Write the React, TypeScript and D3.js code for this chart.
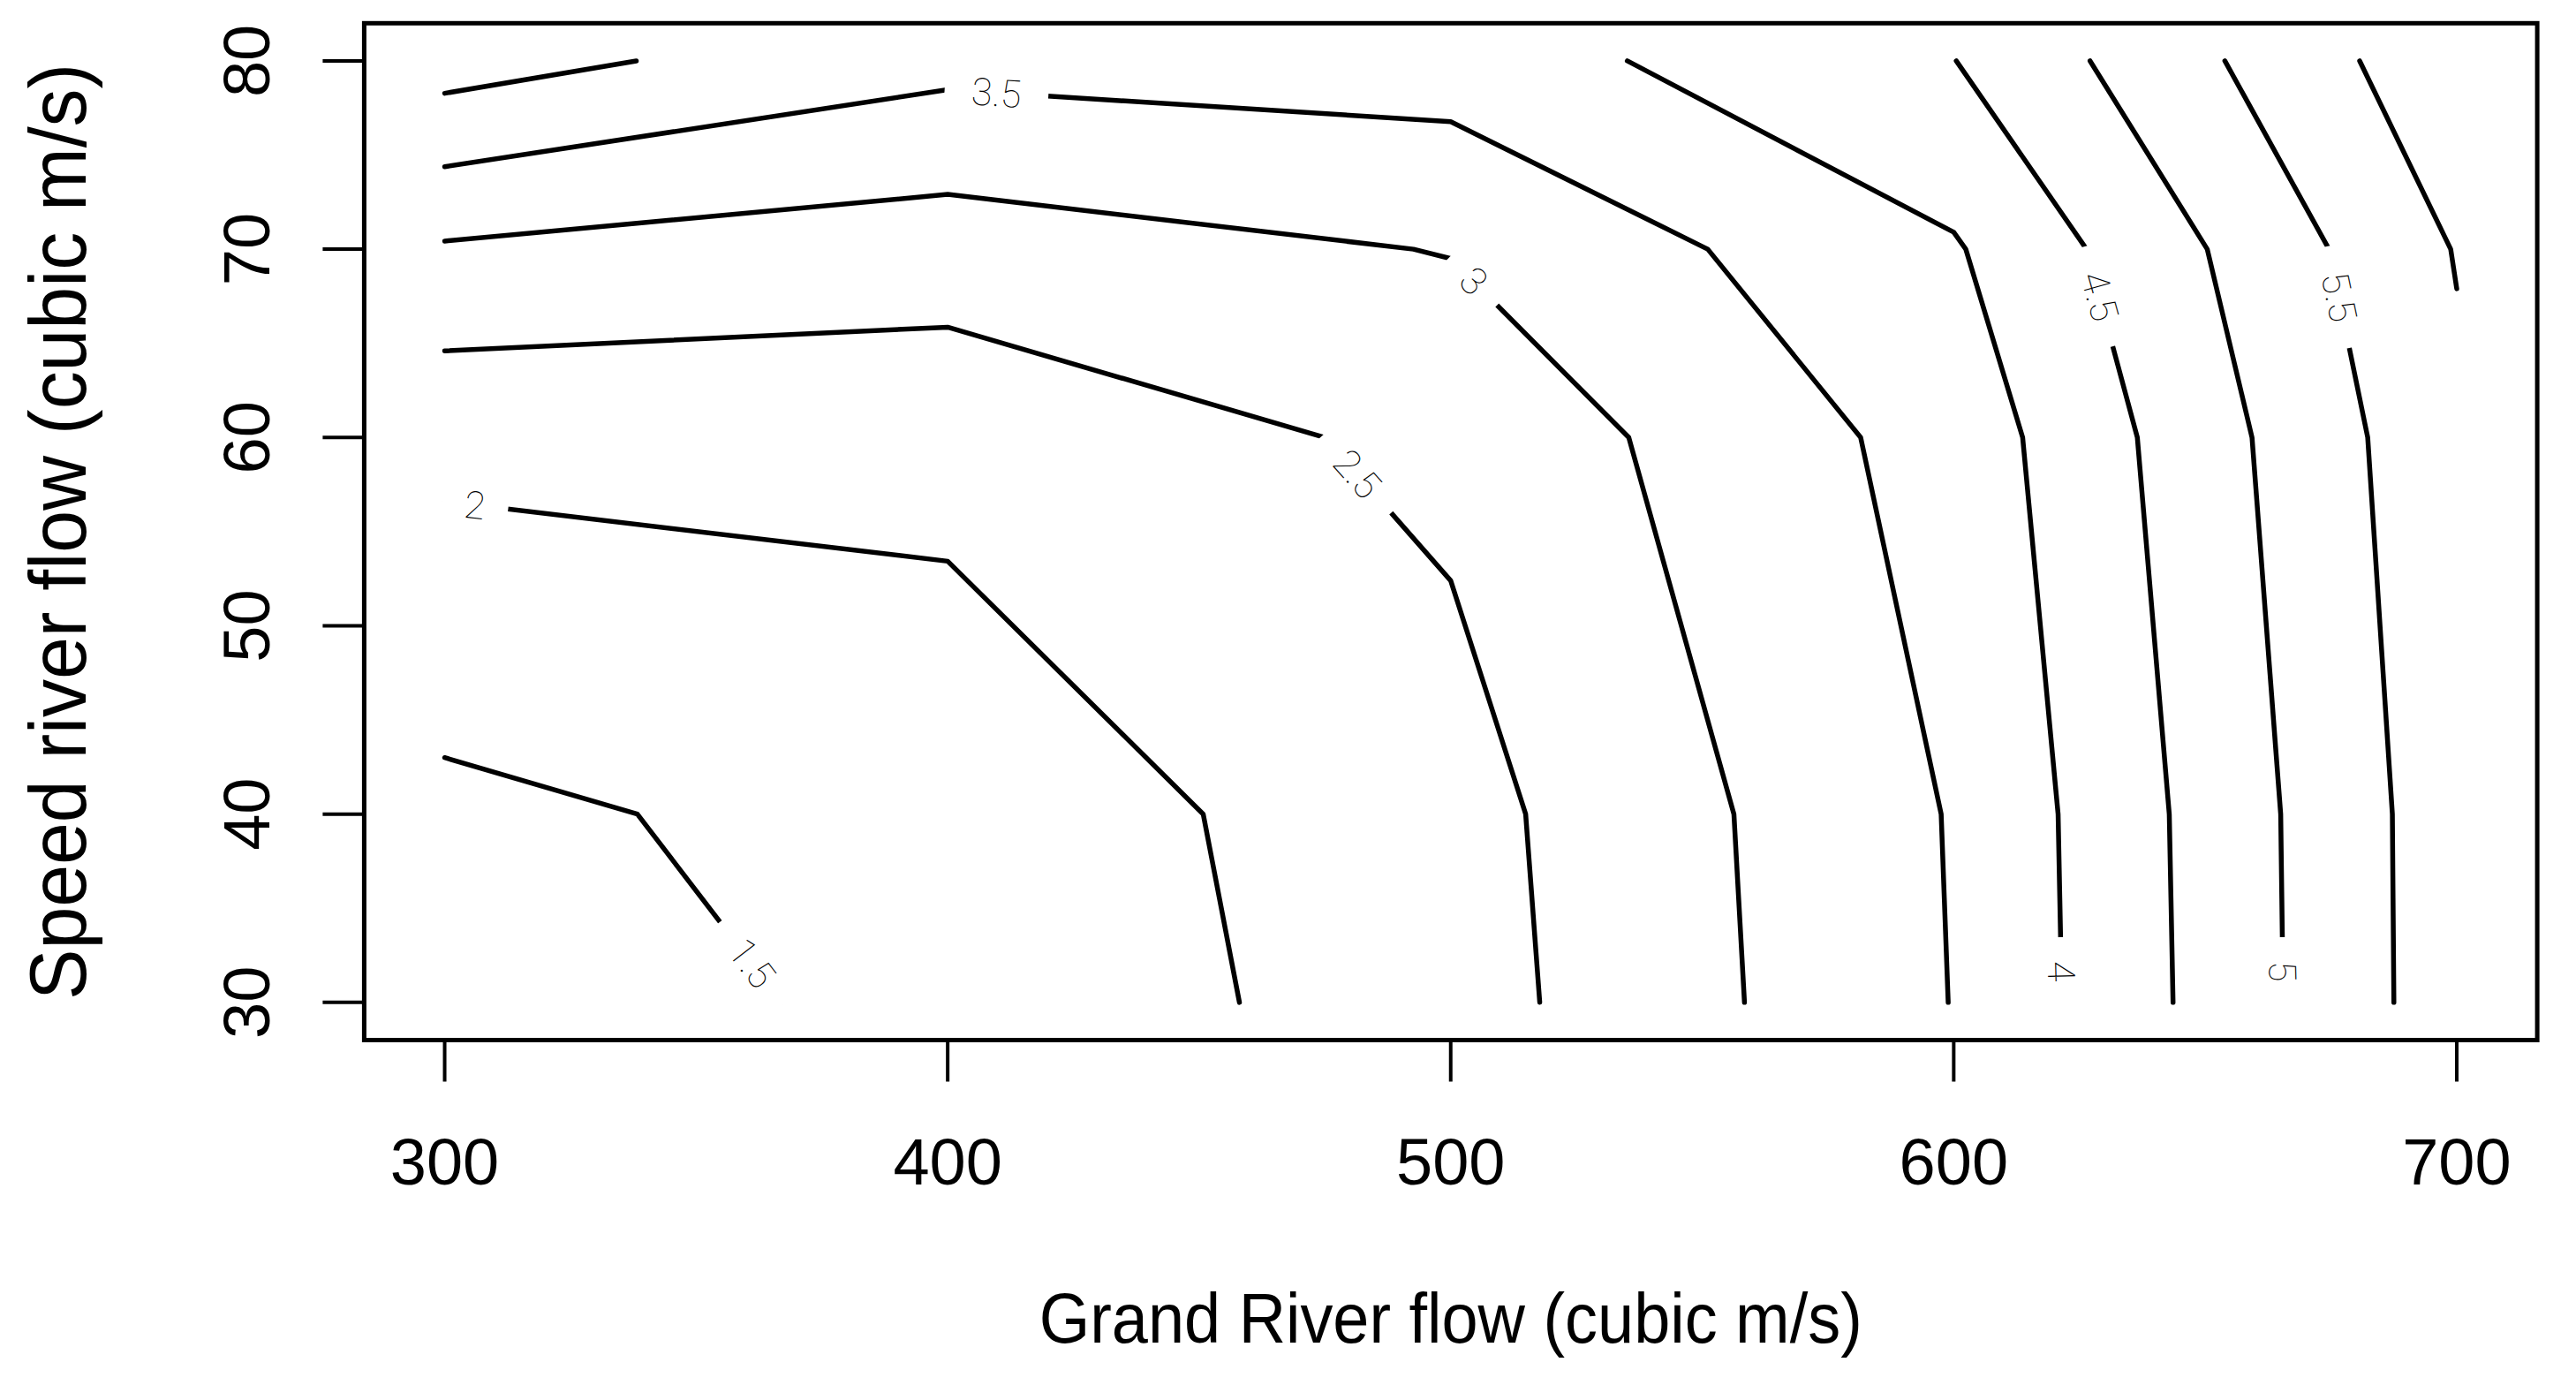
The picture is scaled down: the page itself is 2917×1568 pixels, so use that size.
import React from "react";
import * as d3 from "d3";

// ---- data ----
const xTicks = [300, 400, 500, 600, 700];
const yTicks = [30, 40, 50, 60, 70, 80];
const xTitle = "Grand River flow (cubic m/s)";
const yTitle = "Speed river flow (cubic m/s)";

// contour polylines: [Grand River flow, Speed river flow]
const c15: number[][] = [[300, 43.0], [338.3, 40], [367, 30]];
const c20: number[][] = [[300, 56.6], [400, 53.43], [450.8, 40], [458, 30]];
const c25: number[][] = [[300, 64.6], [400, 65.86], [475, 60], [500, 52.4], [514.9, 40], [517.7, 30]];
const c30: number[][] = [[300, 70.43], [400, 72.91], [492.6, 70], [500, 69.5], [535.4, 60], [556.3, 40], [558.4, 30]];
const c35: number[][] = [[300, 74.38], [400, 78.47], [500, 76.77], [551.1, 70], [581.5, 60], [597.5, 40], [598.9, 30]];
const c40a: number[][] = [[300, 78.28], [338.1, 80]];
const c40b: number[][] = [[535.1, 80], [600, 70.9], [602.4, 70], [613.7, 60], [620.75, 40], [621.5, 30]];
const c45: number[][] = [[600.5, 80], [626.4, 70], [636.5, 60], [642.85, 40], [643.6, 30]];
const c50: number[][] = [[627.1, 80], [650.4, 70], [659.3, 60], [665, 40], [665.5, 30]];
const c55: number[][] = [[653.9, 80], [674.6, 70], [682.3, 60], [687.2, 40], [687.5, 30]];
const c60: number[][] = [[680.7, 80], [698.8, 70], [700, 67.9]];
const contourLines = [c15, c20, c25, c30, c35, c40a, c40b, c45, c50, c55, c60];

// contour labels: text and the gap (start, end) they sit in
const labelText = ["1.5", "2", "2.5", "3", "3.5", "4", "4.5", "5", "5.5"];
const labelFrom: number[][] = [[355.1, 34.14], [300, 56.6], [475, 60], [500.2, 69.46], [400, 78.47], [621.2, 33.3], [626.4, 70], [665.2, 33.3], [674.6, 70]];
const labelTo: number[][] = [[367, 30], [312, 56.21], [487.8, 56.13], [508.9, 67.17], [419.4, 78.13], [621.5, 30], [631.6, 65.01], [665.5, 30], [678.6, 64.92]];

// ---- layout ----
const W = 2917;
const H = 1568;
const x = d3.scaleLinear().domain([284, 716]).range([412.4, 2873.1]);
const y = d3.scaleLinear().domain([28, 82]).range([1177.5, 26.3]);
const LW = 5.5;
const FRAME_W = 5;
const TICK_W = 4;
const TICK = 47;
const sans = "'Liberation Sans', Arial, Helvetica, sans-serif";

export default function App() {
  const line = d3
    .line<number[]>()
    .x((d) => x(d[0]))
    .y((d) => y(d[1]));

  const [x0, x1] = x.range();
  const [yb, yt] = y.range();

  const labels = labelText.map((t, i) => {
    const p0 = [x(labelFrom[i][0]), y(labelFrom[i][1])];
    const p1 = [x(labelTo[i][0]), y(labelTo[i][1])];
    const dx = p1[0] - p0[0];
    const dy = p1[1] - p0[1];
    return {
      t,
      cx: (p0[0] + p1[0]) / 2,
      cy: (p0[1] + p1[1]) / 2,
      ang: (Math.atan2(dy, dx) * 180) / Math.PI,
      len: Math.hypot(dx, dy),
    };
  });

  return (
    <svg
      width={W}
      height={H}
      viewBox={`0 0 ${W} ${H}`}
      style={{ position: "absolute", left: 0, top: 0, background: "#fff" }}
    >
      <rect x={0} y={0} width={W} height={H} fill="#fff" />
      <defs>
        <mask id="gaps" maskUnits="userSpaceOnUse" x={0} y={0} width={W} height={H}>
          <rect x={0} y={0} width={W} height={H} fill="#fff" />
          {labels.map((l, i) => (
            <rect
              key={i}
              x={-l.len / 2 - 3.5}
              y={-30}
              width={l.len + 7}
              height={60}
              fill="#000"
              transform={`translate(${l.cx},${l.cy}) rotate(${l.ang})`}
            />
          ))}
        </mask>
      </defs>

      {/* contour lines */}
      <g mask="url(#gaps)">
        {contourLines.map((c, i) => (
          <path
            key={i}
            d={line(c) || ""}
            fill="none"
            stroke="#000"
            strokeWidth={LW}
            strokeLinejoin="round"
            strokeLinecap="round"
          />
        ))}
      </g>

      {/* contour labels */}
      {labels.map((l, i) => (
        <text
          key={i}
          transform={`translate(${l.cx},${l.cy}) rotate(${l.ang})`}
          textAnchor="middle"
          dominantBaseline="central"
          fontFamily="Roboto, 'Liberation Sans', sans-serif"
          fontWeight={100}
          fontSize={43}
          fill="#000"
        >
          {l.t}
        </text>
      ))}

      {/* frame */}
      <rect
        x={x0}
        y={yt}
        width={x1 - x0}
        height={yb - yt}
        fill="none"
        stroke="#000"
        strokeWidth={FRAME_W}
      />

      {/* x axis */}
      {xTicks.map((v) => (
        <g key={v}>
          <line x1={x(v)} x2={x(v)} y1={yb} y2={yb + TICK} stroke="#000" strokeWidth={TICK_W} />
          <text x={x(v)} y={1341} textAnchor="middle" fontFamily={sans} fontSize={74} fill="#000">
            {v}
          </text>
        </g>
      ))}

      {/* y axis */}
      {yTicks.map((v) => (
        <g key={v}>
          <line x1={x0} x2={x0 - TICK} y1={y(v)} y2={y(v)} stroke="#000" strokeWidth={TICK_W} />
          <text
            transform={`translate(305,${y(v)}) rotate(-90)`}
            textAnchor="middle"
            fontFamily={sans}
            fontSize={74}
            fill="#000"
          >
            {v}
          </text>
        </g>
      ))}

      {/* axis titles */}
      <text
        x={(x0 + x1) / 2}
        y={1520}
        textAnchor="middle"
        fontFamily={sans}
        fontSize={79}
        textLength={932}
        lengthAdjust="spacingAndGlyphs"
        fill="#000"
      >
        {xTitle}
      </text>
      <text
        transform={`translate(96.7,${(yt + yb) / 2}) rotate(-90)`}
        textAnchor="middle"
        fontFamily={sans}
        fontSize={90}
        textLength={1060}
        lengthAdjust="spacingAndGlyphs"
        fill="#000"
      >
        {yTitle}
      </text>
    </svg>
  );
}
